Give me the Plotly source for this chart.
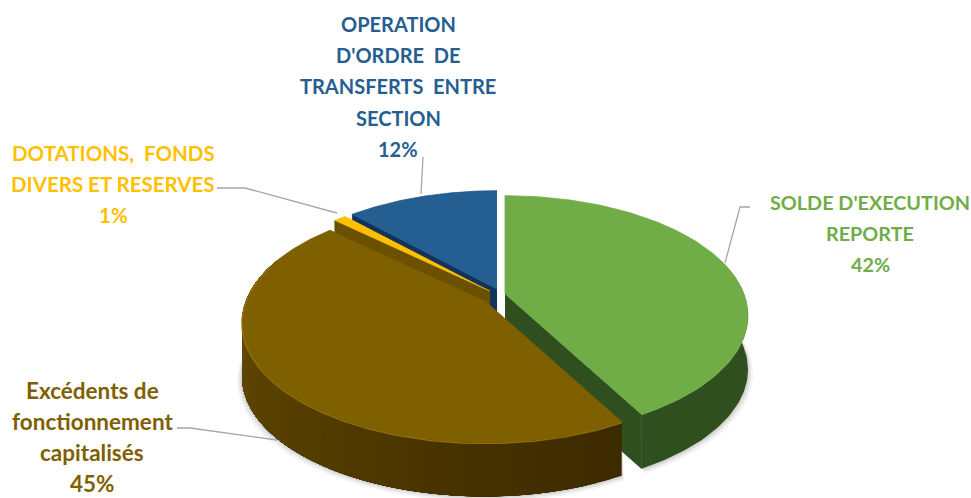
import numpy as np
import plotly.graph_objects as go

categories = ["SOLDE D'EXECUTION REPORTE", "Excédents de fonctionnement capitalisés",
              "DOTATIONS, FONDS DIVERS ET RESERVES", "OPERATION D'ORDRE DE TRANSFERTS ENTRE SECTION"]
values = [42, 45, 1, 12]
top_colors = ["#70AD47", "#7F6000", "#FFC000", "#255E91"]
label_lines = [["SOLDE D'EXECUTION", "REPORTE"],
               ["Excédents de", "fonctionnement", "capitalisés"],
               ["DOTATIONS,\u00a0\u00a0FONDS", "DIVERS ET RESERVES"],
               ["OPERATION", "D'ORDRE\u00a0\u00a0DE", "TRANSFERTS\u00a0\u00a0ENTRE", "SECTION"]]
label_x = [870, 92, 113, 398]
label_y = [202, 390, 153, 24]
label_size = [19.8, 22.5, 20.5, 20]
apex = [(505, 294), (485, 301), (490, 291), (497, 289)]
leaders = [[(750, 207), (740, 207), (725, 263)],
           [(177, 428), (190, 428), (277, 440)],
           [(217, 188), (245, 188), (337, 213)],
           [(423, 157), (421, 194)]]
RX, RY, K, DEPTH = 239, 116, 0.18, 54
LINE_STEP = 31.2
FONT = "Lato"

edges = np.concatenate([[0], np.cumsum(values)]) / sum(values) * 2 * np.pi


def rim(i, t):
    u, v = np.sin(t), np.cos(t)
    d = 1 + K * v
    return apex[i][0] + RX * u / d, apex[i][1] - RY * v / d


fig = go.Figure()


def poly(x, y, color, opacity=1.0, width=0.8):
    fig.add_trace(go.Scatter(x=list(x), y=list(y), mode="lines", fill="toself", fillcolor=color,
                             opacity=opacity, line=dict(color=color, width=width),
                             hoverinfo="skip", showlegend=False))


def top(i):
    t = np.linspace(edges[i], edges[i + 1], 120)
    x, y = rim(i, t)
    poly(np.r_[apex[i][0], x], np.r_[apex[i][1], y], top_colors[i])


def cut(i, t, color):
    x, y = rim(i, t)
    ax, ay = apex[i]
    poly([ax, x, x, ax], [ay, y, y + DEPTH, ay + DEPTH], color)


def wall(i, t0, t1, c0, c1, n=48):
    # painted back to front so that neighbouring bands overlap and leave no seams
    ts = np.linspace(t0, t1, n + 1)
    c0, c1 = np.array(c0), np.array(c1)
    for j in range(n):
        t = np.linspace(ts[j], t1, 80)
        x, y = rim(i, t)
        c = c0 + (c1 - c0) * (j / max(n - 1, 1))
        poly(np.r_[x, x[::-1]], np.r_[y, y[::-1] + DEPTH],
             "rgb(%d,%d,%d)" % tuple(c), width=0)


# soft shadow under the near rim
for grow, op in [(5, 0.10), (3, 0.14), (1.5, 0.18)]:
    for i, (t0, t1) in [(0, (np.pi * 0.45, edges[1])), (1, (edges[1], np.pi * 1.6))]:
        t = np.linspace(t0, t1, 100)
        x, y = rim(i, t)
        poly(np.r_[x + grow * np.sin(t), x[::-1]], np.r_[y + DEPTH + grow, y[::-1]], "#8c8c8c", op, 0)

# green slice
wall(0, np.pi * 0.40, edges[1], (47, 79, 31), (47, 79, 31), n=1)
cut(0, edges[1], "#2F4F1F")
top(0)
# blue slice
cut(3, edges[3], "#12345C")
top(3)
# gold slice
cut(2, edges[2], "#6B5000")
top(2)
# brown slice
wall(1, edges[1], np.pi * 1.62, (60, 42, 0), (108, 81, 0))
cut(1, edges[2], "#6B5000")
top(1)
t = np.linspace(edges[1], np.pi * 1.6, 120)
rx_, ry_ = rim(1, t)
fig.add_trace(go.Scatter(x=rx_, y=ry_ + 1, mode="lines", line=dict(color="#8F6E08", width=1.5),
                         hoverinfo="skip", showlegend=False))

# leader lines
for pts in leaders:
    fig.add_trace(go.Scatter(x=[p[0] for p in pts], y=[p[1] for p in pts], mode="lines",
                             line=dict(color="#A6A6A6", width=1.3), hoverinfo="skip", showlegend=False))

# labels
for i, lines in enumerate(label_lines):
    for j, text in enumerate(lines + ["%d%%" % values[i]]):
        fig.add_annotation(x=label_x[i], y=label_y[i] + j * LINE_STEP, text="<b>%s</b>" % text,
                           showarrow=False, xanchor="center", yanchor="middle",
                           font=dict(family=FONT, size=label_size[i], color=top_colors[i]))

fig.update_layout(width=971, height=498, margin=dict(l=0, r=0, t=0, b=0),
                  paper_bgcolor="white", plot_bgcolor="white", showlegend=False,
                  xaxis=dict(range=[0, 971], visible=False),
                  yaxis=dict(range=[498, 0], visible=False))
fig.write_html("out.html", config=dict(displayModeBar=False),
               post_script="document.body.style.margin='0';document.body.style.overflow='hidden';")
